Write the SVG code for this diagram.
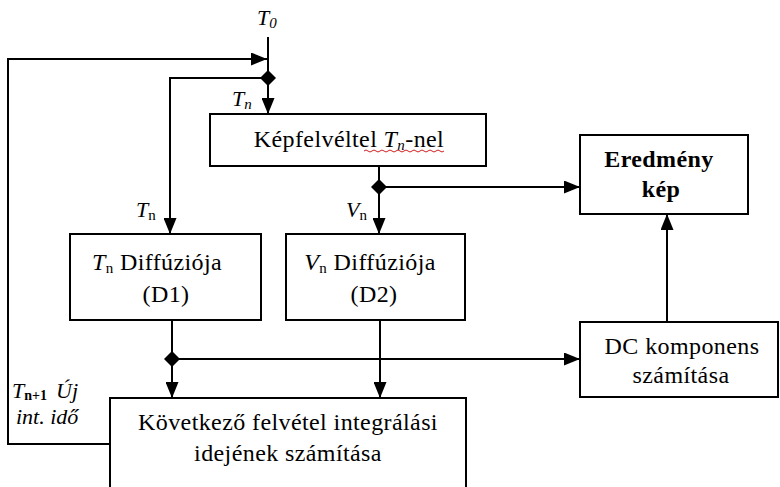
<svg xmlns="http://www.w3.org/2000/svg" width="780" height="487" viewBox="0 0 780 487">
<defs>
<marker id="ah" markerUnits="userSpaceOnUse" markerWidth="17" markerHeight="13" refX="16" refY="6.5" orient="auto">
<path d="M0,0 L16,6.5 L0,13 z" fill="#000"/>
</marker>
</defs>
<rect width="780" height="487" fill="#fff"/>

<g id="connectors" fill="none" stroke="#000" stroke-width="2">
<line x1="268" y1="37" x2="268" y2="78"/>
<polyline marker-end="url(#ah)" points="110,444 8,444 8,59 267,59"/>
<line marker-end="url(#ah)" x1="268" y1="78" x2="268" y2="114"/>
<polyline marker-end="url(#ah)" points="268,78 170,78 170,234"/>
<line x1="379" y1="166" x2="379" y2="187"/>
<line marker-end="url(#ah)" x1="379" y1="187" x2="379" y2="234"/>
<line marker-end="url(#ah)" x1="379" y1="187" x2="580" y2="187"/>
<line x1="172" y1="320" x2="172" y2="359"/>
<line marker-end="url(#ah)" x1="172" y1="359" x2="172" y2="398"/>
<line marker-end="url(#ah)" x1="172" y1="359" x2="580" y2="359"/>
<line marker-end="url(#ah)" x1="380" y1="320" x2="380" y2="398"/>
<line marker-end="url(#ah)" x1="667" y1="322" x2="667" y2="214"/>
<polygon fill="#000" stroke="none" points="268,70 276,78 268,86 260,78"/>
<polygon fill="#000" stroke="none" points="379,179 387,187 379,195 371,187"/>
<polygon fill="#000" stroke="none" points="172,351 180,359 172,367 164,359"/>
</g>

<g id="labels">
<text x="257" y="25" font-family="'Liberation Serif', 'Times New Roman', serif" font-size="22" font-style="italic">T<tspan font-size="15" dy="3">0</tspan></text>
<text x="232" y="106" font-family="'Liberation Serif', 'Times New Roman', serif" font-size="22" font-style="italic">T<tspan font-size="15" dy="3">n</tspan></text>
<text x="136" y="217" font-family="'Liberation Serif', 'Times New Roman', serif" font-size="22"><tspan font-style="italic">T</tspan><tspan font-size="15" dy="3">n</tspan></text>
<text x="346" y="217" font-family="'Liberation Serif', 'Times New Roman', serif" font-size="22"><tspan font-style="italic">V</tspan><tspan font-size="15" dy="3">n</tspan></text>
<text x="12" y="398" font-family="'Liberation Serif', 'Times New Roman', serif" font-size="22"><tspan font-style="italic">T</tspan><tspan font-size="14" font-weight="bold" dy="2">n+1</tspan><tspan font-style="italic" dy="-2" dx="9">Új</tspan></text>
<text x="16" y="424" font-family="'Liberation Serif', 'Times New Roman', serif" font-size="22" font-style="italic">int. idő</text>
</g>

<g id="kepfelvetel">
<rect x="210" y="114" width="276" height="52" fill="#fff" stroke="#000" stroke-width="2"/>
<text x="349" y="147" text-anchor="middle" font-family="'Liberation Serif', 'Times New Roman', serif" font-size="24" letter-spacing="0.4">Képfelvéltel <tspan font-style="italic">T</tspan><tspan font-size="15" font-style="italic" dy="3">n</tspan><tspan dy="-3">-nel</tspan></text>
<path d="M364,151 q2,-2 4,0 t4,0 t4,0 t4,0 t4,0 t4,0 t4,0 t4,0 t4,0 t4,0 t4,0 t4,0 t4,0 t4,0 t4,0 t4,0 t4,0 t4,0 t4,0 t4,0" fill="none" stroke="#d02020" stroke-width="1"/>
</g>

<g id="eredmeny">
<rect x="580" y="135" width="168" height="79" fill="#fff" stroke="#000" stroke-width="2"/>
<text x="659" y="167" text-anchor="middle" font-family="'Liberation Serif', 'Times New Roman', serif" font-size="24" font-weight="bold" letter-spacing="0.4">Eredmény</text>
<text x="661" y="197" text-anchor="middle" font-family="'Liberation Serif', 'Times New Roman', serif" font-size="24" font-weight="bold" letter-spacing="0.4">kép</text>
</g>

<g id="d1">
<rect x="70" y="234" width="191" height="86" fill="#fff" stroke="#000" stroke-width="2"/>
<text x="157" y="270" text-anchor="middle" font-family="'Liberation Serif', 'Times New Roman', serif" font-size="24" letter-spacing="0.4"><tspan font-style="italic">T</tspan><tspan font-size="15" dy="3">n</tspan><tspan dy="-3"> Diffúziója</tspan></text>
<text x="166" y="302" text-anchor="middle" font-family="'Liberation Serif', 'Times New Roman', serif" font-size="24" letter-spacing="0.4">(D1)</text>
</g>

<g id="d2">
<rect x="286" y="234" width="179" height="86" fill="#fff" stroke="#000" stroke-width="2"/>
<text x="370" y="270" text-anchor="middle" font-family="'Liberation Serif', 'Times New Roman', serif" font-size="24" letter-spacing="0.4"><tspan font-style="italic">V</tspan><tspan font-size="15" dy="3">n</tspan><tspan dy="-3"> Diffúziója</tspan></text>
<text x="374" y="302" text-anchor="middle" font-family="'Liberation Serif', 'Times New Roman', serif" font-size="24" letter-spacing="0.4">(D2)</text>
</g>

<g id="dc">
<rect x="580" y="322" width="198" height="75" fill="#fff" stroke="#000" stroke-width="2"/>
<text x="682" y="354" text-anchor="middle" font-family="'Liberation Serif', 'Times New Roman', serif" font-size="24" letter-spacing="0.4">DC komponens</text>
<text x="681" y="383" text-anchor="middle" font-family="'Liberation Serif', 'Times New Roman', serif" font-size="24" letter-spacing="0.4">számítása</text>
</g>

<g id="kovetkezo">
<rect x="110" y="398" width="356" height="100" fill="#fff" stroke="#000" stroke-width="2"/>
<text x="288" y="430" text-anchor="middle" font-family="'Liberation Serif', 'Times New Roman', serif" font-size="24" letter-spacing="0.4">Következő felvétel integrálási</text>
<text x="288" y="461" text-anchor="middle" font-family="'Liberation Serif', 'Times New Roman', serif" font-size="24" letter-spacing="0.4">idejének számítása</text>
</g>
</svg>
